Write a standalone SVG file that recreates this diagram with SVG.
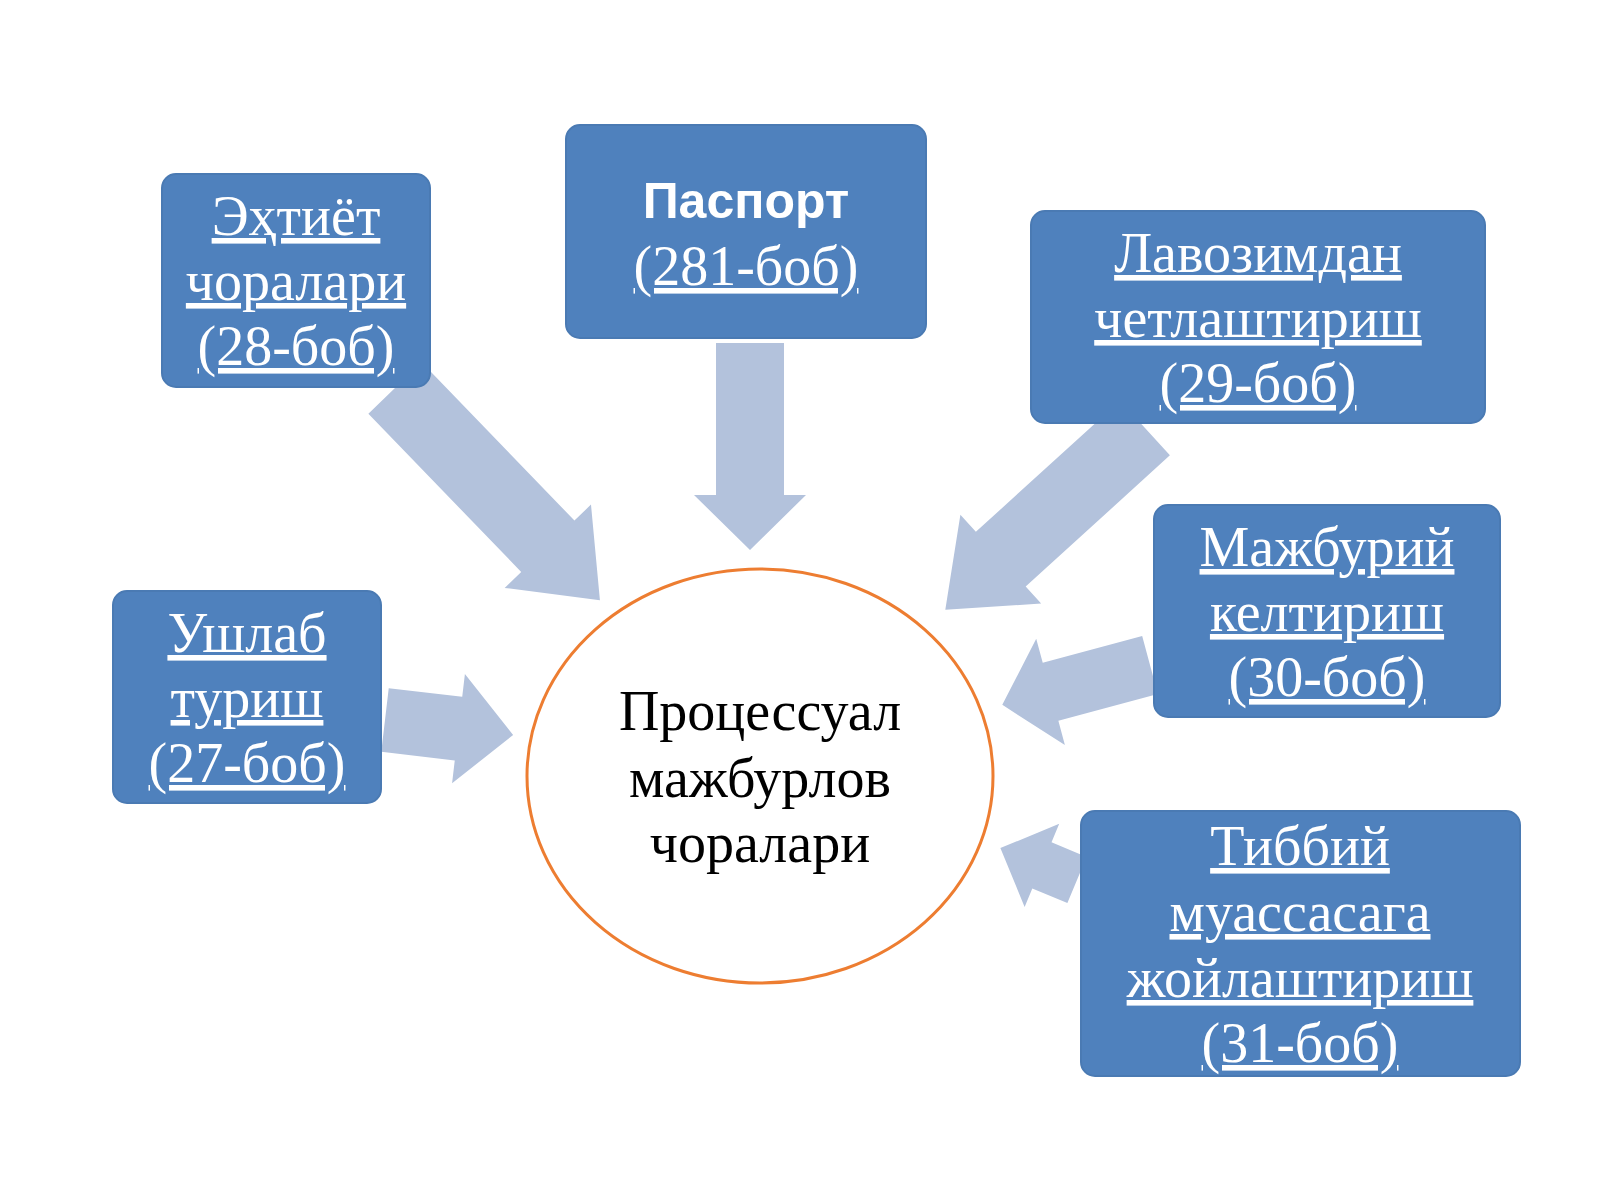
<svg xmlns="http://www.w3.org/2000/svg" width="1600" height="1200" viewBox="0 0 1600 1200">
<style>
.box{fill:#4F81BD;stroke:#4A7AB3;stroke-width:2}
.t{font-family:"Liberation Serif",serif;font-size:56px;fill:#fff;text-anchor:middle;text-decoration:underline}
.b{font-family:"Liberation Sans",sans-serif;font-size:50px;font-weight:bold;fill:#fff;text-anchor:middle}
.c{font-family:"Liberation Serif",serif;font-size:56px;fill:#000;text-anchor:middle}
.ar{fill:#B3C2DC}
</style>
<rect width="1600" height="1200" fill="#fff"/>
<g id="connectors">
<polygon class="ar" transform="translate(750,343) rotate(90)" points="0,-34 152,-34 152,-56 207,0 152,56 152,34 0,34"/>
<polygon class="ar" transform="translate(395,388) rotate(46)" points="0,-37 220,-37 220,-60 295,0 220,60 220,37 0,37"/>
<polygon class="ar" transform="translate(1145,428) rotate(137.7)" points="0,-37 195,-37 195,-60 270,0 195,60 195,37 0,37"/>
<polygon class="ar" transform="translate(1150,665) rotate(164.9)" points="0,-30 103,-30 103,-55 153,0 103,55 103,30 0,30"/>
<polygon class="ar" transform="translate(385,720) rotate(6.7)" points="0,-32 74,-32 74,-55 129,0 74,55 74,32 0,32"/>
<polygon class="ar" transform="translate(1077,880) rotate(202.6)" points="0,-25 38,-25 38,-45 83,0 38,45 38,25 0,25"/>
</g>
<g id="center">
<ellipse cx="760" cy="776" rx="233" ry="207" fill="#fff" stroke="#ED7D31" stroke-width="3"/>
<text class="c" x="760" y="730">Процессуал</text>
<text class="c" x="760" y="797">мажбурлов</text>
<text class="c" x="760" y="862">чоралари</text>
</g>
<g id="n1"><rect class="box" x="162" y="174" width="268" height="213" rx="14"/>
<text class="t" x="296" y="235">Эҳтиёт</text><text class="t" x="296" y="300">чоралари</text><text class="t" x="296" y="365">(28-боб)</text></g>
<g id="n2"><rect class="box" x="566" y="125" width="360" height="213" rx="14"/>
<text class="b" x="746" y="218">Паспорт</text><text class="t" x="746" y="285">(281-боб)</text></g>
<g id="n3"><rect class="box" x="1031" y="211" width="454" height="212" rx="14"/>
<text class="t" x="1258" y="272">Лавозимдан</text><text class="t" x="1258" y="337">четлаштириш</text><text class="t" x="1258" y="402">(29-боб)</text></g>
<g id="n4"><rect class="box" x="1154" y="505" width="346" height="212" rx="14"/>
<text class="t" x="1327" y="566">Мажбурий</text><text class="t" x="1327" y="631">келтириш</text><text class="t" x="1327" y="696">(30-боб)</text></g>
<g id="n5"><rect class="box" x="113" y="591" width="268" height="212" rx="14"/>
<text class="t" x="247" y="652">Ушлаб</text><text class="t" x="247" y="717">туриш</text><text class="t" x="247" y="782">(27-боб)</text></g>
<g id="n6"><rect class="box" x="1081" y="811" width="439" height="265" rx="14"/>
<text class="t" x="1300" y="865">Тиббий</text><text class="t" x="1300" y="931">муассасага</text><text class="t" x="1300" y="997">жойлаштириш</text><text class="t" x="1300" y="1062">(31-боб)</text></g>
</svg>
